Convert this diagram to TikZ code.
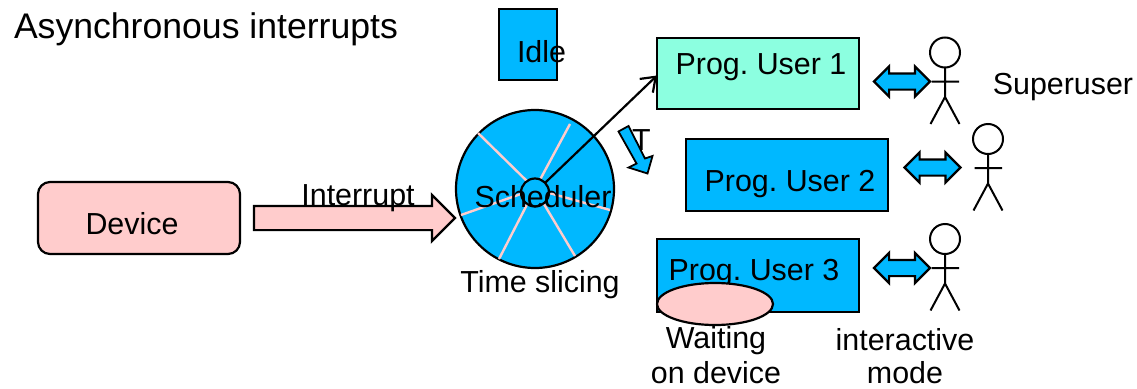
\documentclass[tikz,border=0pt]{standalone}
\usepackage{fontspec}
\setmainfont{Liberation Sans}
\frenchspacing
\usetikzlibrary{shapes.arrows,shapes.geometric,arrows.meta}
\definecolor{bluefill}{RGB}{0,184,255}
\definecolor{aquafill}{RGB}{140,255,224}
\definecolor{pinkfill}{RGB}{255,204,204}
\tikzset{
  every node/.style={outer sep=0pt},
  lbl/.style={font=\fontsize{30.4}{34}\selectfont,inner sep=0pt,text=black},
  progbox/.style={draw=black,line width=2.2pt,fill=bluefill,rectangle,inner sep=0pt,anchor=north west},
  dblarrow/.style={double arrow,draw=black,line width=2.2pt,fill=bluefill,inner xsep=0pt,inner ysep=7pt,
    minimum height=56pt,double arrow head extend=7pt,double arrow head indent=0pt},
  person/.style={draw=black,line width=2pt},
  spoke/.style={draw=pinkfill,line width=2.4pt},
}
\newcommand{\stick}[3]{% name, x, head y
  \node[circle,person,minimum size=30pt,inner sep=0pt] (#1) at (#2,#3) {};
  \coordinate (#1hip) at (#2,#3+44.5);
  \coordinate (#1arml) at (#2-13.5,#3+29);
  \coordinate (#1armr) at (#2+14,#3+29);
  \coordinate (#1la) at (#2-14.5,#3+71.5);
  \coordinate (#1lb) at (#2+14.5,#3+71.5);
  \draw[person] (#1.south) -- (#1hip) (#1arml) -- (#1armr) (#1la) -- (#1hip) -- (#1lb);
}
\begin{document}
\begin{tikzpicture}[x=1pt,y=-1pt]
\useasboundingbox (0,0) rectangle (1137,388);
% title
\node[lbl,font=\fontsize{35.6}{38}\selectfont,anchor=west] (title) at (14,29) {Asynchronous interrupts};
% idle
\node[progbox,minimum width=58pt,minimum height=71pt] (idle) at (499,9) {};
\node[lbl] (idlet) at (541.5,52) {Idle};
% device
\node[draw=black,line width=2.2pt,fill=pinkfill,rounded corners=12pt,minimum width=202pt,minimum height=72pt,inner sep=0pt] (device) at (139,218) {};
\node[lbl] (devicet) at (132,224) {Device};
% interrupt arrow
\node[single arrow,draw=black,line width=2.2pt,fill=pinkfill,inner xsep=0pt,inner ysep=11pt,minimum height=201pt,
  single arrow head extend=11pt,single arrow tip angle=90,anchor=tip] (intarrow) at (455,218) {};
\node[lbl] (intt) at (358,198) {Interrupt};
% scheduler
\node[circle,draw=black,line width=2.2pt,fill=bluefill,minimum size=158pt,inner sep=0pt] (sched) at (535,189) {};
\coordinate (s1) at (478,133);
\coordinate (s2) at (570,124);
\coordinate (s3) at (610,210);
\coordinate (s4) at (575,256);
\coordinate (s5) at (499,259);
\coordinate (s6) at (461,215);
\draw[spoke] (sched.center) -- (s1) (sched.center) -- (s2) (sched.center) -- (s3)
  (sched.center) -- (s4) (sched.center) -- (s5) (sched.center) -- (s6);
\node[circle,draw=black,line width=2.2pt,fill=bluefill,minimum size=28pt,inner sep=0pt] (hub) at (535,192.5) {};
\node[lbl] (schedt) at (543,197) {Scheduler};
\node[lbl] (slice) at (540,285) {Time slicing};
% user boxes
\node[progbox,fill=aquafill,minimum width=202pt,minimum height=71pt] (user1) at (657,38) {};
\node[lbl] (user1t) at (761,67) {Prog. User 1};
\node[progbox,minimum width=202pt,minimum height=72pt] (user2) at (686,139) {};
\node[lbl] (user2t) at (790,184) {Prog. User 2};
\node[progbox,minimum width=202pt,minimum height=73pt] (user3) at (657,239) {};
\node[lbl] (user3t) at (754,273) {Prog. User 3};
\node[ellipse,draw=black,line width=2.2pt,fill=pinkfill,minimum width=116pt,minimum height=42pt,inner sep=0pt] (wait) at (715,304) {};
\node[lbl] (wait1) at (716,341) {Waiting};
\node[lbl] (wait2) at (716,373) {on device};
\node[lbl] (inter1) at (905,340) {interactive};
\node[lbl] (inter2) at (905,373) {mode};
\node[lbl] (super) at (1063,87) {Superuser};
% scheduler to user 1
\draw[black,line width=2.2pt,-{Straight Barb[length=13pt,width=19pt]}] (hub) -- ([yshift=-2pt]user1.west);
% T and quantum arrow
\node[lbl] (tee) at (641.5,140) {T};
\draw[black,line width=1.8pt,fill=bluefill] (618.5,131.5) -- (628.5,126) -- (645,158.5) -- (652.5,156) -- (647.5,173.5) -- (628.5,167.5) -- (636.5,163.5) -- cycle;
% people
\stick{p1}{945}{52.5}
\stick{p2}{988}{139}
\stick{p3}{945}{239}
% double arrows
\node[dblarrow] (d1) at (902,81.5) {};
\node[dblarrow] (d2) at (932.5,167.5) {};
\node[dblarrow] (d3) at (902,268) {};
\end{tikzpicture}
\end{document}
